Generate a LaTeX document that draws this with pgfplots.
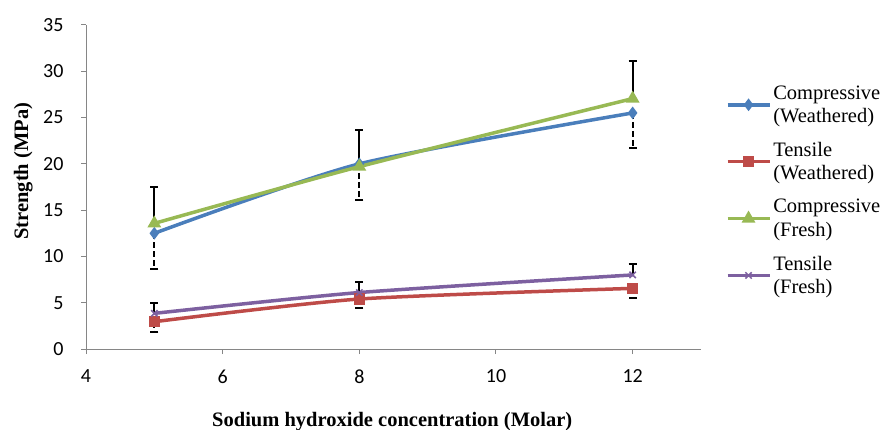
\documentclass[border=0pt]{standalone}
\usepackage{fontspec}
\setmainfont{Liberation Serif}
\newfontfamily\carlito{Carlito}
\usepackage{pgfplots}
\pgfplotsset{compat=1.18}
\definecolor{cblue}{HTML}{4A7EBB}
\definecolor{cred}{HTML}{BE4B48}
\definecolor{cgreen}{HTML}{98B954}
\definecolor{cpurple}{HTML}{7D60A0}
\definecolor{axgray}{HTML}{868686}
\begin{document}
\begin{tikzpicture}
\path[use as bounding box] (0bp,0bp) rectangle (885bp,430bp);
\begin{axis}[
  at={(86bp,81bp)}, anchor=south west,
  scale only axis, width=615bp, height=324bp,
  xmin=4, xmax=13, ymin=0, ymax=35,
  xtick={4,6,8,10,12}, ytick={0,5,...,35},
  axis lines=left, axis line style={axgray, line width=1bp, -},
  tick style={axgray, line width=1bp}, tick align=outside,
  major tick length=5bp,
  minor tick num=0,
  /pgf/number format/assume math mode=true,
  ticklabel style={font=\carlito\fontsize{20bp}{22bp}\selectfont, text=black},
  xticklabel style={yshift=-12bp},
  yticklabel style={xshift=-14bp},
  xlabel={\textbf{Sodium hydroxide concentration (Molar)}},
  ylabel={\textbf{Strength (MPa)}},
  label style={font=\fontsize{20.5bp}{23bp}\selectfont},
  xlabel style={at={(axis description cs:0.498,-0.225)}, anchor=center},
  ylabel style={at={(axis description cs:-0.102,0.549)}, anchor=center},
  legend style={draw=none, fill=none, at={(1.04,0.82)}, anchor=north west,
    font=\fontsize{20.5bp}{23.5bp}\selectfont, cells={align=left, anchor=west},
    row sep=14bp, inner sep=0pt},
  legend cell align=left,
  legend image code/.code={\draw[mark repeat=2,mark phase=2] plot coordinates {(0bp,0bp) (21bp,0bp) (42bp,0bp)};},
  error bars/error bar style={black, line width=2bp},
  error bars/error mark options={black, line width=2bp, mark size=4bp, solid, rotate=90},
]
\addplot[cblue, line width=3.5bp, smooth, tension=0.4, mark=diamond*, mark size=3.5bp,
  mark options={solid},
  error bars/.cd, y dir=minus, y explicit,
  error bar style={dash pattern=on 6bp off 3bp}]
  coordinates {(5,12.5) -= (0,3.83) (8,20.0) -= (0,3.9) (12,25.5) -= (0,3.8)};
\addlegendentry{Compressive\\(Weathered)}
\addplot[cred, line width=3.5bp, smooth, tension=0.4, mark=square*, mark size=4bp,
  error bars/.cd, y dir=minus, y explicit,
  error bar style={dash pattern=on 6bp off 3bp}]
  coordinates {(5,2.95) -= (0,1.15) (8,5.4) -= (0,1.0) (12,6.55) -= (0,1.0)};
\addlegendentry{Tensile\\(Weathered)}
\addplot[cgreen, line width=3.5bp, smooth, tension=0.4, mark=triangle*, mark size=4.5bp,
  error bars/.cd, y dir=plus, y explicit]
  coordinates {(5,13.57) += (0,3.93) (8,19.7) += (0,3.95) (12,27.05) += (0,4.05)};
\addlegendentry{Compressive\\(Fresh)}
\addplot[cpurple, line width=3.5bp, smooth, tension=0.4, mark=x, mark size=4.5bp,
  mark options={line width=1.5bp},
  error bars/.cd, y dir=plus, y explicit]
  coordinates {(5,3.85) += (0,1.15) (8,6.1) += (0,1.17) (12,8.0) += (0,1.18)};
\addlegendentry{Tensile\\(Fresh)}
\end{axis}
\end{tikzpicture}
\end{document}
